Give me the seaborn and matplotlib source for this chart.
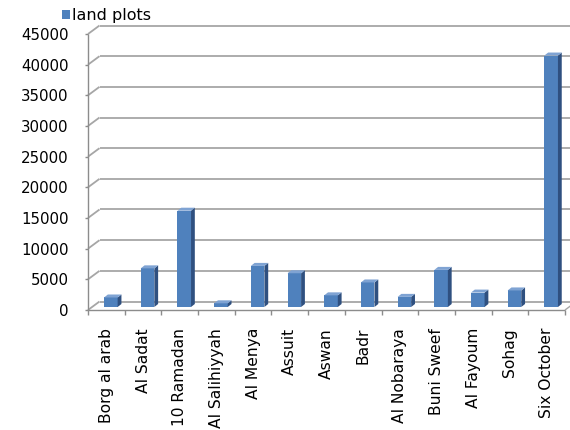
import matplotlib
matplotlib.use("Agg")
import numpy as np
import pandas as pd
import seaborn as sns
import matplotlib.pyplot as plt
from matplotlib.patches import Polygon, Rectangle
from matplotlib.lines import Line2D
from matplotlib.transforms import IdentityTransform, Affine2D

categories = ["Borg al arab", "Al Sadat", "10 Ramadan", "Al Salihiyyah", "Al Menya",
              "Assuit", "Aswan", "Badr", "Al Nobaraya", "Buni Sweef", "Al Fayoum",
              "Sohag", "Six October"]
land_plots = [1550, 6300, 15700, 600, 6700, 5500, 1900, 4000, 1650, 6050, 2350, 2700, 41000]
y_ticks = [0, 5000, 10000, 15000, 20000, 25000, 30000, 35000, 40000, 45000]
series_label = "land plots"

sns.set_theme(style="white")
plt.rcParams['font.family'] = ['DejaVu Sans']

FRONT = "#4F81BD"
SIDE = "#2F5080"
TOP = "#7FA3D3"
GRID = "#A6A6A6"
AXIS = "#8C8C8C"

fig = plt.figure(figsize=(5.7, 4.3), dpi=100)
ax = fig.add_axes([88/570, 1 - 310/430, (565 - 88)/570, 276/430])
ax.patch.set_alpha(0)

df = pd.DataFrame({"site": categories, "plots": land_plots})
sns.barplot(data=df, x="site", y="plots", order=categories, color=FRONT,
            saturation=1, width=0.37, ax=ax, zorder=3)
ax.set_xlim(-0.5, len(categories) - 0.5)
ax.set_ylim(0, 45000)
for s in ax.spines.values():
    s.set_visible(False)
ax.set_xlabel("")
ax.set_ylabel("")
ax.grid(False)
ax.set_yticks(y_ticks)
ax.set_yticklabels([str(v) for v in y_ticks], fontsize=10.8, color="black")
ax.tick_params(axis="y", length=0, pad=14)
ax.tick_params(axis="x", length=0, pad=13, labelrotation=90, labelsize=11.2, labelcolor="black")

T = ax.transData
XL = T.transform((-0.5, 0))[0]
XR = T.transform((len(categories) - 0.5, 0))[0]
Y0 = T.transform((0, 0))[1]
ddx, ddy = 11.5, 8.5

def line(xs, ys, color, lw, z=0):
    fig.add_artist(Line2D(xs, ys, color=color, lw=lw, transform=IdentityTransform(),
                          zorder=z, solid_capstyle="butt"))

for v in y_ticks:
    Yv = T.transform((0, v))[1]
    line([XL + ddx, 575], [Yv + ddy, Yv + ddy], GRID, 1.3)
    line([XL, XL + ddx], [Yv, Yv + ddy], GRID, 1.3)
    line([XL - 3, XL], [Yv, Yv], AXIS, 1.0)
Ytop = T.transform((0, 45000))[1]
line([XL, XL], [Y0, Ytop], AXIS, 1.0)
line([XL, XR], [Y0, Y0], AXIS, 1.0)
line([XR, XR + ddx], [Y0, Y0 + ddy], GRID, 1.0)
for b in np.arange(-0.5, len(categories), 1.0):
    Xb = T.transform((b, 0))[0]
    line([Xb, Xb], [Y0, Y0 - 5], AXIS, 1.0)

# 3D faces for bars
dx, dy = 4.5, 3.0
sd, sdy = 3.8, 3.0
for p in list(ax.patches):
    x0 = p.get_x(); x1 = x0 + p.get_width(); h = p.get_height()
    X0, Yb = T.transform((x0, 0))
    X1, Yt = T.transform((x1, h))
    p.set_transform(T + Affine2D().translate(dx, dy))
    p.set_edgecolor("none")
    side = Polygon([(X1 + dx, Yb + dy), (X1 + dx + sd, Yb + dy + sdy),
                    (X1 + dx + sd, Yt + dy + sdy), (X1 + dx, Yt + dy)],
                   closed=True, facecolor=SIDE, edgecolor="none",
                   transform=IdentityTransform(), zorder=4)
    top = Polygon([(X0 + dx, Yt + dy), (X1 + dx, Yt + dy),
                   (X1 + dx + sd, Yt + dy + sdy), (X0 + dx + sd, Yt + dy + sdy)],
                  closed=True, facecolor=TOP, edgecolor="none",
                  transform=IdentityTransform(), zorder=4)
    fig.add_artist(side)
    fig.add_artist(top)

# legend
fig.patches.append(Rectangle((62/570, 1 - 18.5/430), 7.5/570, 8/430,
                             transform=fig.transFigure, facecolor=FRONT, edgecolor="none"))
fig.text(72/570, 1 - 15.5/430, series_label, va="center", ha="left", fontsize=11.5, color="black")

fig.savefig("out.png", dpi=100)
